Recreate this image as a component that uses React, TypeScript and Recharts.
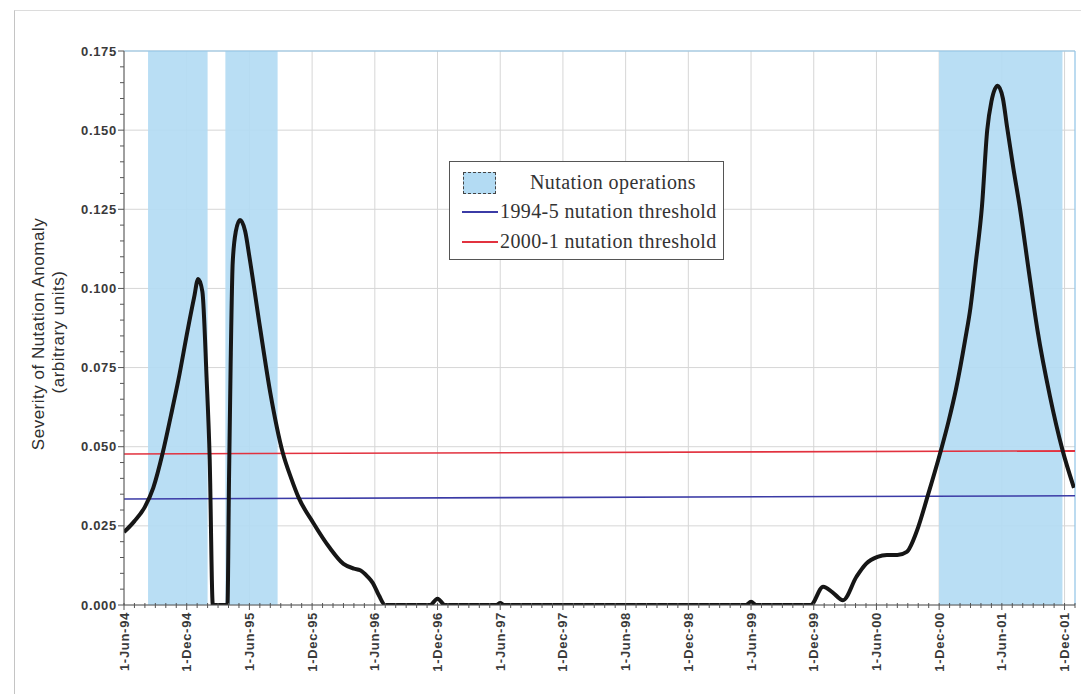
import {
  ComposedChart,
  Line,
  XAxis,
  YAxis,
  CartesianGrid,
  ReferenceArea,
  ReferenceLine,
} from 'recharts'

// months counted from 1-Jun-94 (0) to end of plot (~Jan-02)
const monthPts = [
  0, 1, 2, 2.8, 3.7, 4.5, 5.2, 6.1, 6.7, 7.1,
  7.5, 7.9, 8.2, 8.5, 9.9, 10.05, 10.2, 10.4, 10.7, 11.1,
  11.6, 12.0, 13.0, 14.0, 15.2, 16.0, 16.7, 18.1, 19.7,
  21.0, 22.0, 22.6, 23.3, 23.8, 24.4, 25.0, 29.3, 30.0, 30.7,
  35.6, 36.0, 36.4, 59.5, 60.0, 60.5, 65.7, 66.9, 67.8, 68.8,
  70.1, 71.0, 72.1, 73.0, 74.0, 74.9, 75.9, 76.9, 78.1, 78.9,
  79.6, 80.5, 81.0, 81.5, 82.1, 82.6, 83.0, 83.6, 84.1, 84.5,
  85.1, 85.7, 86.6, 87.4, 88.6, 89.8, 90.9,
]

const severity = [
  0.023, 0.0265, 0.031, 0.037, 0.048, 0.06, 0.071, 0.087, 0.097, 0.103,
  0.099, 0.072, 0.046, 0, 0, 0.04, 0.075, 0.108, 0.118, 0.1216,
  0.118, 0.11, 0.088, 0.067, 0.048, 0.04, 0.034, 0.026, 0.018,
  0.013, 0.0115, 0.011, 0.009, 0.007, 0.003, 0, 0, 0.002, 0,
  0, 0.0006, 0, 0, 0.001, 0, 0, 0.0058, 0.004, 0.0015,
  0.009, 0.013, 0.0152, 0.0158, 0.0158, 0.0168, 0.0237, 0.0344, 0.048, 0.058,
  0.068, 0.084, 0.094, 0.108, 0.126, 0.15, 0.159, 0.164, 0.16, 0.151,
  0.138, 0.126, 0.105, 0.087, 0.066, 0.049, 0.037,
]

// nutation operation periods (months)
const bandStart = [2.3, 9.7, 78.0]
const bandEnd = [8.0, 14.7, 89.8]

// thresholds, value at start / end of the plot
const thresholdSpan = [0, 91]
const threshold19945 = [0.0335, 0.0345]
const threshold20001 = [0.0477, 0.0487]

const xTickMonths = [0, 6, 12, 18, 24, 30, 36, 42, 48, 54, 60, 66, 72, 78, 84, 90]
const xTickLabels = [
  '1-Jun-94', '1-Dec-94', '1-Jun-95', '1-Dec-95', '1-Jun-96', '1-Dec-96',
  '1-Jun-97', '1-Dec-97', '1-Jun-98', '1-Dec-98', '1-Jun-99', '1-Dec-99',
  '1-Jun-00', '1-Dec-00', '1-Jun-01', '1-Dec-01',
]
const yTickValues = [0, 0.025, 0.05, 0.075, 0.1, 0.125, 0.15, 0.175]
const yTickLabels = ['0.000', '0.025', '0.050', '0.075', '0.100', '0.125', '0.150', '0.175']

const minorMonths = Array.from({ length: 92 }, (_, i) => i)
const minorY = Array.from({ length: 36 }, (_, i) => Math.round(i * 5) / 1000)

const data = monthPts.map((m, i) => ({ m, v: severity[i] }))

const AXIS = '#555'
const TICK_FONT = {
  fontFamily: '"Liberation Sans", Arial, sans-serif',
  fontSize: 13,
  fontWeight: 700,
  letterSpacing: 0.7,
  fill: '#3a3a3a',
}

const XTick = ({ x, y, payload }: any) => {
  const m = payload.value
  const idx = xTickMonths.indexOf(m)
  const major = idx >= 0
  return (
    <g>
      <line x1={x} x2={x} y1={y - 2} y2={y + (major ? 5 : 3)} stroke={AXIS} strokeWidth={1} />
      {major && (
        <text
          x={x}
          y={y + 7}
          dy="0.35em"
          textAnchor="end"
          transform={`rotate(-90, ${x}, ${y + 7})`}
          {...TICK_FONT}
        >
          {xTickLabels[idx]}
        </text>
      )}
    </g>
  )
}

const YTick = ({ x, y, payload }: any) => {
  const v = payload.value
  const idx = yTickValues.findIndex((t) => Math.abs(t - v) < 1e-7)
  const major = idx >= 0
  return (
    <g>
      <line x1={x} x2={x - (major ? 6 : 4)} y1={y} y2={y} stroke={AXIS} strokeWidth={1} />
      {major && (
        <text x={x - 7} y={y} dy="0.35em" textAnchor="end" {...TICK_FONT}>
          {yTickLabels[idx]}
        </text>
      )}
    </g>
  )
}

const legendText = {
  position: 'absolute' as const,
  fontFamily: '"Liberation Serif", "Times New Roman", serif',
  fontSize: 20,
  letterSpacing: 0.4,
  color: '#333',
  lineHeight: '24px',
  whiteSpace: 'nowrap' as const,
}

const axisTitle = {
  position: 'absolute' as const,
  width: 400,
  height: 24,
  lineHeight: '24px',
  textAlign: 'center' as const,
  transform: 'rotate(-90deg)',
  fontFamily: '"Liberation Sans", Arial, sans-serif',
  fontSize: 17,
  letterSpacing: 0.5,
  color: '#2e2e2e',
}

export default function App() {
  return (
    <div style={{ position: 'relative', width: 1081, height: 686 }}>
      {/* outer frame */}
      <div
        style={{
          position: 'absolute',
          left: 6,
          top: 2,
          width: 1068,
          height: 684,
          borderLeft: '1px solid #c4c4c4',
          borderTop: '1px solid #dcdcdc',
          borderRight: '1px solid #cfcfcf',
        }}
      />

      <ComposedChart
        width={1081}
        height={686}
        data={data}
        margin={{ top: 43, right: 14, bottom: 9, left: 56 }}
      >
        <CartesianGrid
          stroke="#d6d6d6"
          strokeWidth={1}
          verticalValues={xTickMonths}
          horizontalValues={yTickValues}
        />

        {bandStart.map((s, i) => (
          <ReferenceArea
            key={i}
            x1={s}
            x2={bandEnd[i]}
            y1={0}
            y2={0.175}
            fill="#b3dbf3"
            fillOpacity={0.92}
            stroke="none"
          />
        ))}

        <XAxis
          dataKey="m"
          type="number"
          domain={[0, 91]}
          ticks={minorMonths}
          interval={0}
          tickSize={0}
          tickMargin={0}
          tickLine={false}
          tick={XTick}
          axisLine={{ stroke: AXIS }}
          height={80}
          allowDataOverflow
        />
        <YAxis
          type="number"
          domain={[0, 0.175]}
          ticks={minorY}
          interval={0}
          tickSize={0}
          tickMargin={0}
          tickLine={false}
          tick={YTick}
          axisLine={{ stroke: AXIS }}
          width={60}
          allowDataOverflow
        />

        <ReferenceLine y={0.175} stroke="#8fc3e6" strokeWidth={1.2} />
        <ReferenceLine x={91} stroke="#8fc3e6" strokeWidth={1.2} />

        <ReferenceLine
          segment={[
            { x: thresholdSpan[0], y: threshold19945[0] },
            { x: thresholdSpan[1], y: threshold19945[1] },
          ]}
          stroke="#3b3ba6"
          strokeWidth={1.6}
        />
        <ReferenceLine
          segment={[
            { x: thresholdSpan[0], y: threshold20001[0] },
            { x: thresholdSpan[1], y: threshold20001[1] },
          ]}
          stroke="#e2323f"
          strokeWidth={1.6}
        />

        <Line
          dataKey="v"
          type="monotone"
          stroke="#161616"
          strokeWidth={4}
          dot={false}
          activeDot={false}
          isAnimationActive={false}
        />
      </ComposedChart>

      {/* y axis title */}
      <div style={{ ...axisTitle, left: 31 - 200, top: 326 - 12 }}>
        Severity of Nutation Anomaly
      </div>
      <div style={{ ...axisTitle, left: 51 - 200, top: 324 - 12 }}>(arbitrary units)</div>

      {/* legend */}
      <div
        style={{
          position: 'absolute',
          left: 441,
          top: 153,
          width: 273,
          height: 97,
          border: '1px solid #555',
          background: '#fff',
        }}
      >
        <div
          style={{
            position: 'absolute',
            left: 13,
            top: 10,
            width: 31,
            height: 20,
            background: '#b3dbf3',
            border: '1px dashed #444',
          }}
        />
        <div style={{ ...legendText, left: 80, top: 8 }}>Nutation operations</div>
        <div style={{ position: 'absolute', left: 12, top: 49, width: 36, height: 2, background: '#3b3ba6' }} />
        <div style={{ ...legendText, left: 50, top: 37 }}>1994-5 nutation threshold</div>
        <div style={{ position: 'absolute', left: 12, top: 79, width: 36, height: 2, background: '#e2323f' }} />
        <div style={{ ...legendText, left: 50, top: 67 }}>2000-1 nutation threshold</div>
      </div>
    </div>
  )
}
